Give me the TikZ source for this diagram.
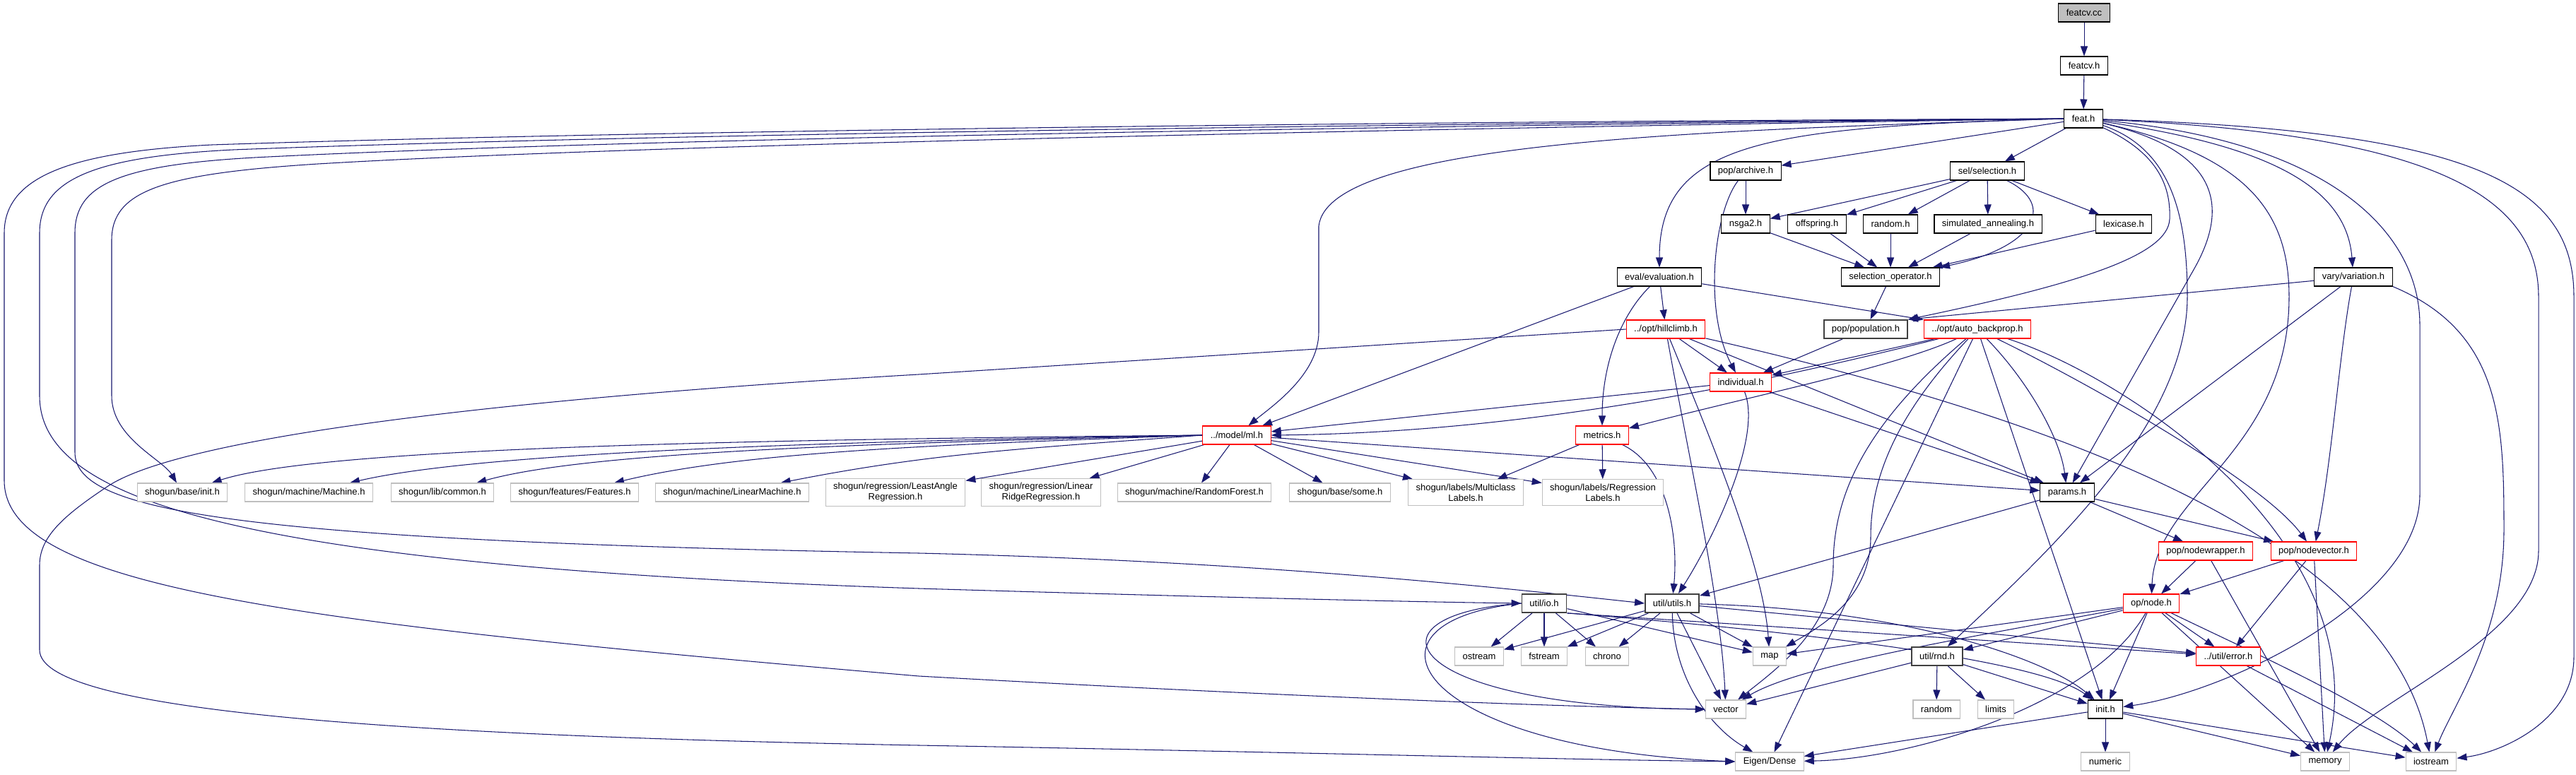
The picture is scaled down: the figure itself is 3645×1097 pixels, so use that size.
\documentclass[tikz,border=0pt]{standalone}
\usepackage{fontspec}
\setmainfont{Liberation Sans}
\usetikzlibrary{arrows.meta, backgrounds}
\definecolor{edgeblue}{HTML}{191970}
\definecolor{truncred}{HTML}{FF0000}
\definecolor{sysgrey}{HTML}{BFBFBF}
\definecolor{undocgrey}{HTML}{404040}

\begin{document}
\begin{tikzpicture}[x=0.02cm, y=-0.02cm,
    >={Triangle[length=0.28cm, width=0.2cm]},
    every node/.style={font=\fontsize{7.4}{8.5}\selectfont},
    hdr/.style={rectangle, draw=#1, line width=0.6pt, fill=white,
                inner xsep=0.22cm, inner ysep=0.12cm,
                minimum height=0.52cm, align=center},
    hdr/.default=black,
    undoc/.style={hdr=undocgrey, line width=1pt},
    inc/.style={->, draw=edgeblue, line width=0.6pt},
  ]
  \useasboundingbox (0,0) rectangle (3645,1097);

  % sources and headers of feat
  \node[hdr, fill=sysgrey] (featcc) at (2949,18) {featcv.cc};
  \node[hdr] (featcvh) at (2949,93) {featcv.h};
  \node[hdr] (feath) at (2948,168) {feat.h};
  \node[hdr] (archive) at (2470,242) {pop/archive.h};
  \node[hdr] (selection) at (2812,242) {sel/selection.h};
  \node[hdr] (nsga) at (2470,317) {nsga2.h};
  \node[hdr] (offspring) at (2571,317) {offspring.h};
  \node[hdr] (randomh) at (2675,317) {random.h};
  \node[hdr] (simann) at (2813,317) {simulated\_annealing.h};
  \node[hdr] (lexicase) at (3005,317) {lexicase.h};
  \node[hdr] (selop) at (2675,392) {selection\_operator.h};
  \node[hdr] (evaluation) at (2348,392) {eval/evaluation.h};
  \node[hdr] (variation) at (3330,392) {vary/variation.h};
  \node[hdr=truncred] (hillclimb) at (2357,466) {../opt/hillclimb.h};
  \node[undoc] (population) at (2640,466) {pop/population.h};
  \node[hdr=truncred] (autobp) at (2798,466) {../opt/auto\_backprop.h};
  \node[hdr=truncred] (individual) at (2463,541) {individual.h};
  \node[hdr=truncred] (mlh) at (1750,616) {../model/ml.h};
  \node[hdr=truncred] (metrics) at (2267,616) {metrics.h};
  \node[hdr] (params) at (2925,697) {params.h};
  \node[hdr=truncred] (nodewrap) at (3121,780) {pop/nodewrapper.h};
  \node[hdr=truncred] (nodevec) at (3274,780) {pop/nodevector.h};
  \node[undoc] (ioh) at (2185,854) {util/io.h};
  \node[undoc] (utilsh) at (2366,854) {util/utils.h};
  \node[hdr=truncred] (nodeh) at (3044,854) {op/node.h};
  \node[undoc] (rndh) at (2741,929) {util/rnd.h};
  \node[hdr=truncred] (errorh) at (3153,929) {../util/error.h};
  \node[hdr] (inith) at (2979,1004) {init.h};

  % shogun headers
  \node[hdr=sysgrey] (sginit) at (258,697) {shogun/base/init.h};
  \node[hdr=sysgrey] (sgmachine) at (437,697) {shogun/machine/Machine.h};
  \node[hdr=sysgrey] (sgcommon) at (626,697) {shogun/lib/common.h};
  \node[hdr=sysgrey] (sgfeatures) at (813,697) {shogun/features/Features.h};
  \node[hdr=sysgrey] (sglinmach) at (1036,697) {shogun/machine/LinearMachine.h};
  \node[hdr=sysgrey] (sglars) at (1267,697) {shogun/regression/LeastAngle\\Regression.h};
  \node[hdr=sysgrey] (sgridge) at (1473,697) {shogun/regression/Linear\\RidgeRegression.h};
  \node[hdr=sysgrey] (sgforest) at (1690,697) {shogun/machine/RandomForest.h};
  \node[hdr=sysgrey] (sgsome) at (1896,697) {shogun/base/some.h};
  \node[hdr=sysgrey] (sgmulti) at (2074,697) {shogun/labels/Multiclass\\Labels.h};
  \node[hdr=sysgrey] (sgreglab) at (2268,697) {shogun/labels/Regression\\Labels.h};

  % system headers
  \node[hdr=sysgrey] (ostream) at (2093,929) {ostream};
  \node[hdr=sysgrey] (fstream) at (2185,929) {fstream};
  \node[hdr=sysgrey] (chrono) at (2274,929) {chrono};
  \node[hdr=sysgrey] (mapn) at (2504,929) {map};
  \node[hdr=sysgrey] (vectorn) at (2442,1004) {vector};
  \node[hdr=sysgrey] (randomlib) at (2740,1004) {random};
  \node[hdr=sysgrey] (limits) at (2824,1004) {limits};
  \node[hdr=sysgrey] (eigen) at (2504,1078) {Eigen/Dense};
  \node[hdr=sysgrey] (numeric) at (2979,1078) {numeric};
  \node[hdr=sysgrey] (memory) at (3290,1078) {memory};
  \node[hdr=sysgrey] (iostream) at (3440,1078) {iostream};

  \begin{scope}[on background layer]
  \fill[white] (0,0) rectangle (3645,1097);

  % top chain
  \draw[inc] (featcc) -- (featcvh);
  \draw[inc] (featcvh) -- (feath);

  % feat.h, round the left side
  \draw[inc] (feath.west) .. controls (2000,172) and (900,185) .. (300,205)
    .. controls (100,215) and (6,250) .. (6,330) -- (6,680)
    .. controls (6,830) and (400,880) .. (1300,957)
    .. controls (1800,985) and (2200,1000) .. (vectorn.west);
  \draw[inc] (feath.west) .. controls (2000,175) and (900,190) .. (330,212)
    .. controls (130,222) and (56,255) .. (56,330) -- (56,560)
    .. controls (56,700) and (300,800) .. (1300,833)
    .. controls (1700,845) and (2000,852) .. (ioh.west);
  \draw[inc] (feath.west) .. controls (2000,178) and (900,196) .. (380,222)
    .. controls (170,232) and (106,260) .. (106,330) -- (106,640)
    .. controls (106,720) and (300,765) .. (1300,783)
    .. controls (1800,795) and (2150,835) .. (utilsh.west);
  \draw[inc] (feath.west) .. controls (2000,182) and (900,205) .. (450,232)
    .. controls (230,246) and (158,270) .. (158,340) -- (158,560)
    .. controls (158,620) and (230,650) .. (sginit);

  % feat.h, downwards
  \draw[inc] (feath) -- (archive);
  \draw[inc] (feath) -- (selection);
  \draw[inc] (feath.west) .. controls (2500,180) and (2348,200) .. (evaluation);
  \draw[inc] (feath.west) .. controls (2400,185) and (1880,200) .. (1866,320)
    -- (1866,470) .. controls (1866,530) and (1800,575) .. (mlh);
  \draw[inc] (feath) .. controls (3050,215) and (3072,260) .. (3070,310)
    .. controls (3068,360) and (2950,400) .. (population.north east);
  \draw[inc] (feath) .. controls (3070,210) and (3095,300) .. (3095,420)
    .. controls (3095,600) and (2900,780) .. (rndh);
  \draw[inc] (feath) .. controls (3150,215) and (3150,300) .. (3105,380) -- (params);
  \draw[inc] (feath) .. controls (3180,220) and (3239,300) .. (3239,420)
    .. controls (3239,640) and (3050,700) .. (nodeh);
  \draw[inc] (feath) .. controls (3200,205) and (3320,260) .. (variation);
  \draw[inc] (feath) .. controls (3300,200) and (3424,330) .. (3424,460) -- (3424,700)
    .. controls (3424,850) and (3150,980) .. (inith);
  \draw[inc] (feath) .. controls (3450,190) and (3592,280) .. (3592,420) -- (3592,780)
    .. controls (3592,900) and (3360,990) .. (memory);
  \draw[inc] (feath) .. controls (3500,185) and (3642,260) .. (3642,420) -- (3642,930)
    .. controls (3642,1020) and (3540,1065) .. (iostream);

  % archive and selection
  \draw[inc] (archive) -- (nsga);
  \draw[inc] (archive) .. controls (2425,300) and (2410,440) .. (individual);
  \draw[inc] (selection) -- (nsga);
  \draw[inc] (selection) -- (offspring);
  \draw[inc] (selection) -- (randomh);
  \draw[inc] (selection) -- (simann);
  \draw[inc] (selection) -- (lexicase);
  \draw[inc] (selection) .. controls (2910,290) and (2880,350) .. (selop.north east);
  \draw[inc] (nsga) -- (selop);
  \draw[inc] (offspring) -- (selop);
  \draw[inc] (randomh) -- (selop);
  \draw[inc] (simann) -- (selop);
  \draw[inc] (lexicase) -- (selop);
  \draw[inc] (selop) -- (population);

  % evaluation and variation
  \draw[inc] (evaluation) -- (mlh);
  \draw[inc] (evaluation) .. controls (2290,450) and (2267,520) .. (metrics);
  \draw[inc] (evaluation) -- (hillclimb);
  \draw[inc] (evaluation) -- (autobp.north west);
  \draw[inc] (variation) -- (population.north east);
  \draw[inc] (variation) -- (params);
  \draw[inc] (variation) .. controls (3310,500) and (3300,650) .. (nodevec);
  \draw[inc] (variation.south east) .. controls (3540,470) and (3543,600) .. (3543,750)
    .. controls (3543,900) and (3470,1000) .. (iostream);

  % population and hillclimb
  \draw[inc] (population) -- (individual);
  \draw[inc] (hillclimb) -- (individual);
  \draw[inc] (hillclimb.west) -- (1300,530) .. controls (700,565) and (250,620) .. (150,690)
    .. controls (90,730) and (56,760) .. (56,800) -- (56,920)
    .. controls (56,1010) and (600,1042) .. (1300,1055)
    .. controls (1800,1064) and (2200,1075) .. (eigen.west);
  \draw[inc] (hillclimb) .. controls (2390,650) and (2435,850) .. (vectorn);
  \draw[inc] (hillclimb) .. controls (2420,620) and (2495,800) .. (mapn);
  \draw[inc] (hillclimb) -- (params);
  \draw[inc] (hillclimb) .. controls (2900,590) and (3380,760) .. (iostream);

  % auto_backprop
  \draw[inc] (autobp) -- (individual);
  \draw[inc] (autobp) .. controls (2560,525) and (2200,612) .. (mlh.east);
  \draw[inc] (autobp) .. controls (2680,520) and (2480,560) .. (metrics);
  \draw[inc] (autobp) .. controls (2640,600) and (2594,700) .. (2594,800)
    .. controls (2594,890) and (2510,950) .. (vectorn);
  \draw[inc] (autobp) .. controls (2680,590) and (2647,680) .. (2647,760)
    .. controls (2647,850) and (2570,890) .. (mapn);
  \draw[inc] (autobp) -- (eigen);
  \draw[inc] (autobp) -- (inith);
  \draw[inc] (autobp) .. controls (2870,540) and (2915,620) .. (params);
  \draw[inc] (autobp) .. controls (2950,540) and (3200,680) .. (nodevec);
  \draw[inc] (autobp) .. controls (3000,530) and (3360,760) .. (memory);

  % individual
  \draw[inc] (individual) -- (mlh);
  \draw[inc] (individual) -- (params);
  \draw[inc] (individual) .. controls (2495,620) and (2420,770) .. (utilsh);

  % model/ml.h
  \draw[inc] (mlh.west) .. controls (1100,622) and (458,632) .. (sginit);
  \draw[inc] (mlh.west) .. controls (1150,625) and (677,641) .. (sgmachine);
  \draw[inc] (mlh.west) .. controls (1200,628) and (826,641) .. (sgcommon);
  \draw[inc] (mlh.west) .. controls (1300,630) and (1045,641) .. (sgfeatures);
  \draw[inc] (mlh.west) .. controls (1450,635) and (1320,641) .. (sglinmach);
  \draw[inc] (mlh) -- (sglars);
  \draw[inc] (mlh) -- (sgridge);
  \draw[inc] (mlh) -- (sgforest);
  \draw[inc] (mlh) -- (sgsome);
  \draw[inc] (mlh) -- (sgmulti);
  \draw[inc] (mlh) -- (sgreglab);
  \draw[inc] (mlh) -- (params);

  % metrics and params
  \draw[inc] (metrics) -- (sgmulti);
  \draw[inc] (metrics) -- (sgreglab);
  \draw[inc] (metrics) .. controls (2360,660) and (2375,760) .. (utilsh);
  \draw[inc] (params) -- (utilsh);
  \draw[inc] (params) -- (nodewrap);
  \draw[inc] (params) -- (nodevec);

  % nodes of the program
  \draw[inc] (nodewrap) -- (nodeh);
  \draw[inc] (nodewrap) -- (memory);
  \draw[inc] (nodevec) -- (nodeh);
  \draw[inc] (nodevec) -- (errorh);
  \draw[inc] (nodevec) -- (memory);
  \draw[inc] (nodeh) -- (mapn);
  \draw[inc] (nodeh) .. controls (2800,900) and (2550,940) .. (vectorn);
  \draw[inc] (nodeh) -- (rndh);
  \draw[inc] (nodeh) -- (inith);
  \draw[inc] (nodeh) -- (errorh);
  \draw[inc] (nodeh) .. controls (2960,1000) and (2700,1075) .. (eigen);
  \draw[inc] (nodeh) -- (memory);
  \draw[inc] (nodeh) .. controls (3180,920) and (3360,1000) .. (iostream);

  % rnd.h, init.h, error.h
  \draw[inc] (rndh) -- (vectorn);
  \draw[inc] (rndh) -- (randomlib);
  \draw[inc] (rndh) -- (limits);
  \draw[inc] (rndh) -- (inith);
  \draw[inc] (inith) -- (eigen);
  \draw[inc] (inith) -- (numeric);
  \draw[inc] (inith) -- (memory);
  \draw[inc] (inith) -- (iostream);
  \draw[inc] (errorh) -- (iostream);

  % io.h and utils.h
  \draw[inc] (ioh) -- (ostream);
  \draw[inc] (ioh) -- (fstream);
  \draw[inc] (ioh) -- (chrono);
  \draw[inc] (ioh) -- (mapn);
  \draw[inc] (ioh.west) .. controls (1920,870) and (1980,1000) .. (vectorn.west);
  \draw[inc] (ioh.west) .. controls (1900,880) and (2000,1060) .. (eigen.west);
  \draw[inc] (ioh.south east) .. controls (2500,890) and (2880,930) .. (inith);
  \draw[inc] (ioh.south east) -- (errorh);
  \draw[inc] (utilsh) -- (ostream);
  \draw[inc] (utilsh) -- (fstream);
  \draw[inc] (utilsh) -- (chrono);
  \draw[inc] (utilsh) -- (mapn);
  \draw[inc] (utilsh) -- (vectorn);
  \draw[inc] (utilsh) .. controls (2368,960) and (2420,1030) .. (eigen);
  \draw[inc] (utilsh) .. controls (2700,862) and (2900,935) .. (inith);
  \draw[inc] (utilsh) -- (errorh);
  \end{scope}
\end{tikzpicture}
\end{document}
